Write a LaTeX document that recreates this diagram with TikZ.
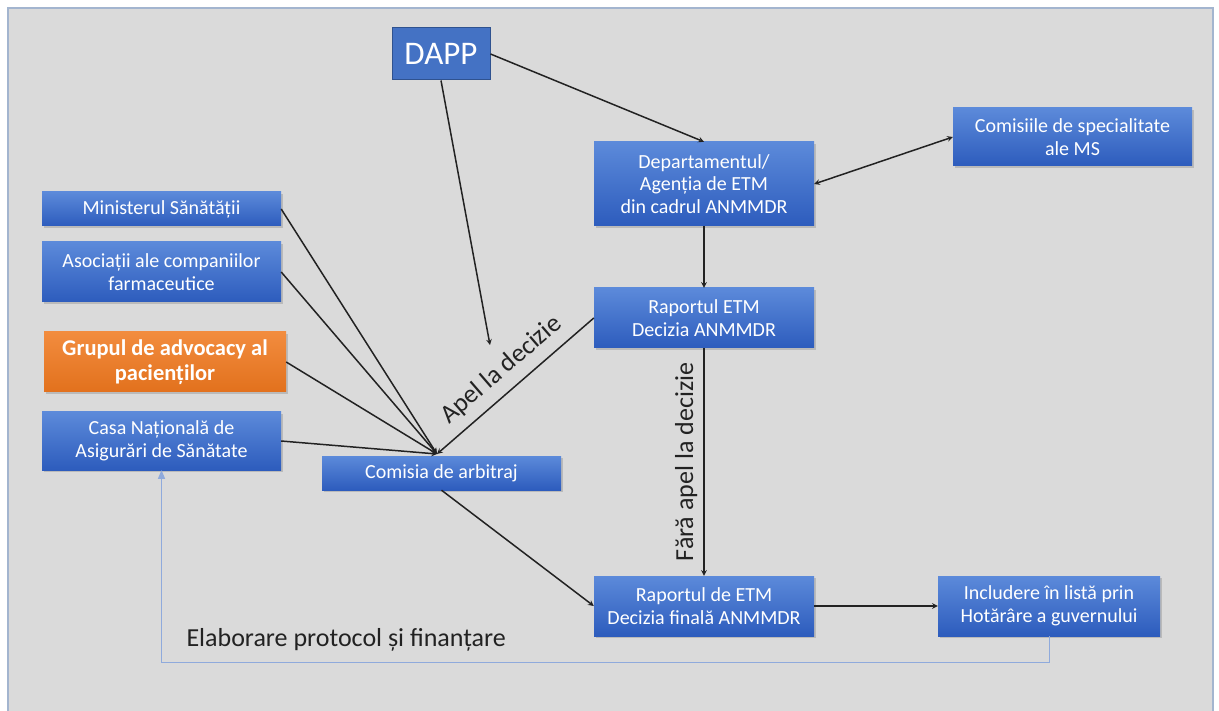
\documentclass[tikz,border=0pt]{standalone}
\usepackage{fontspec}
\setmainfont{Carlito}
\usetikzlibrary{arrows,shadows}
\definecolor{boxtop}{HTML}{5C8ADA}
\definecolor{boxbot}{HTML}{2D5CBD}
\definecolor{orgtop}{HTML}{F28C3E}
\definecolor{orgbot}{HTML}{E2711D}
\definecolor{dappfill}{HTML}{4472C4}
\definecolor{dappline}{HTML}{2F528F}
\definecolor{framebg}{HTML}{DADADA}
\definecolor{frameline}{HTML}{A3B5CF}
\definecolor{feedline}{HTML}{8FAADC}
\definecolor{inkgray}{HTML}{222222}
\tikzstyle{box} = [rectangle,align=center,text=white,top color=boxtop,bottom color=boxbot,
	drop shadow={shadow xshift=1.5pt,shadow yshift=-2pt,opacity=0.35},
	font=\fontsize{20}{22.5}\selectfont,inner sep=0pt]
\tikzstyle{orangebox} = [box,top color=orgtop,bottom color=orgbot,
	font=\fontsize{22.5}{25}\selectfont\bfseries]
\tikzstyle{arrow} = [line width=1.5pt,draw=inkgray,->,>=stealth]
\tikzstyle{steplabel} = [text=inkgray,font=\fontsize{26}{28}\selectfont]

\begin{document}
\begin{tikzpicture}[x=1pt,y=-1pt]
	
	% define constants
	\def \bw {239}
	\def \cw {220}
	\def \lx {161.5}
	\def \cx {704}
	
	% Page and frame
	\useasboundingbox (0,0) rectangle (1219,711);
	\fill[white] (0,0) rectangle (1219,711);
	\begin{scope}
	\clip (0,0) rectangle (1219,711);
	\draw[line width=2pt,draw=frameline,fill=framebg] (8,8) rectangle (1213,724);
	\end{scope}
	
	% Top and right column
	\node[rectangle,draw=dappline,line width=1pt,fill=dappfill,text=white,
		minimum width=98,minimum height=52,font=\fontsize{33}{36}\selectfont] (dapp) at (441,54) {DAPP};
	\node[box,minimum width=\cw,minimum height=84] (dep) at (\cx,184) {Departamentul/\\Agenția de ETM\\din cadrul ANMMDR};
	\node[box,minimum width=\bw,minimum height=58] (com) at (1072.5,137) {Comisiile de specialitate\\ale MS};
	\node[box,minimum width=\cw,minimum height=60] (rap) at (\cx,318) {Raportul ETM\\Decizia ANMMDR};
	\node[box,minimum width=\cw,minimum height=60] (fin) at (\cx,606) {Raportul de ETM\\Decizia finală ANMMDR};
	\node[box,minimum width=222,minimum height=60] (incl) at (1049,606) {Includere în listă prin\\Hotărâre a guvernului};
	
	% Left column
	\node[box,minimum width=\bw,minimum height=34] (min) at (\lx,209) {Ministerul Sănătății};
	\node[box,minimum width=\bw,minimum height=60] (asoc) at (\lx,272) {Asociații ale companiilor\\farmaceutice};
	\node[orangebox,minimum width=242,minimum height=60] (grup) at (165,362) {Grupul de advocacy al\\pacienților};
	\node[box,minimum width=\bw,minimum height=58] (casa) at (\lx,441) {Casa Națională de\\Asigurări de Sănătate};
	\node[box,minimum width=\bw,minimum height=34] (arb) at (441.5,473) {Comisia de arbitraj};
	
	% Free ends
	\coordinate (meet) at (437,454);
	\coordinate (dappend) at (490,345);
	\coordinate (fb) at (0,662);
	
	% Arrows
	\draw[arrow] (dapp.east) -- (dep.north);
	\draw[arrow] (dapp.south) -- (dappend);
	\draw[arrow,<->] (dep.east) -- (com.west);
	\draw[arrow] (dep.south) -- (rap.north);
	\draw[arrow] (rap.south) -- node[steplabel,midway,rotate=90,anchor=south,inner sep=6pt] (nofr) {Fără apel la decizie} (fin.north);
	\draw[arrow] (rap.west) -- node[steplabel,pos=0.5,sloped,above=6pt] (apel) {Apel la decizie} (meet);
	\foreach \src in {min,asoc,grup,casa}
		\draw[arrow] (\src.east) -- (meet);
	\draw[arrow] (arb.south) -- (fin.west);
	\draw[arrow] (fin.east) -- (incl.west);
	
	% Feedback loop
	\draw[line width=1pt,draw=feedline,->,>=triangle 45] (incl.south) |- (casa.south |- fb) -- (casa.south);
	\node[steplabel,anchor=west] (elab) at (183,640) {Elaborare protocol și finanțare};
	
\end{tikzpicture}
\end{document}
